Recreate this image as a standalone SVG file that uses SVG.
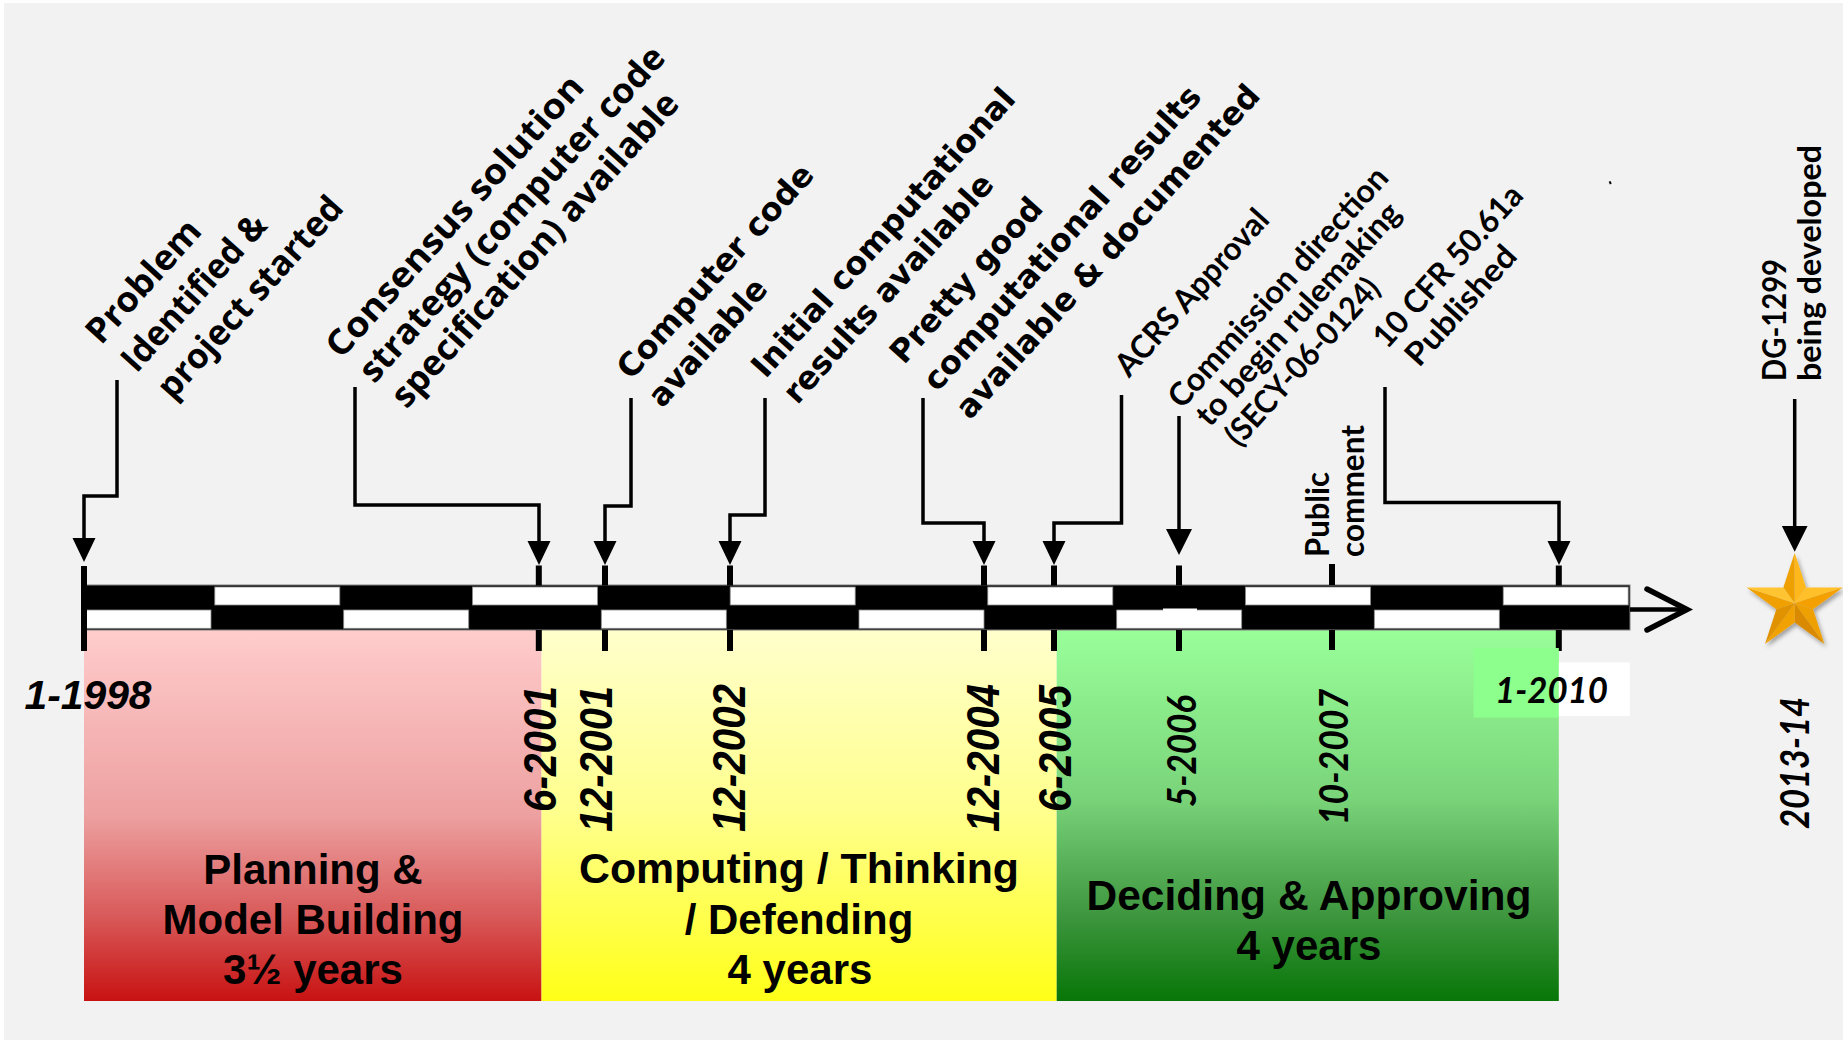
<svg xmlns="http://www.w3.org/2000/svg" width="1843" height="1040" viewBox="0 0 1843 1040">
  <defs>
    <style>
      .conn { fill: none; stroke: #000; stroke-width: 3.5; }
      .tick { fill: #000; }
      .seg-w { fill: #fff; stroke: #8a8a8a; stroke-width: 0.8; }
      .fa { font-family: "Open Sans", "DejaVu Sans", sans-serif; font-weight: 700; font-size: 35px; fill: #000; }
      .fb { font-family: "DejaVu Sans", sans-serif; font-weight: 700; font-size: 32px; fill: #000; }
      .fc { font-family: Lato, "Open Sans", sans-serif; font-weight: 700; font-size: 32px; fill: #000; }
      .dt { font-family: "Liberation Sans", Arial, sans-serif; font-weight: 700; font-style: italic; fill: #000; }
      .dc { font-family: Lato, "Open Sans", sans-serif; font-weight: 700; font-style: italic; fill: #000; }
      .ph { font-family: "Liberation Sans", Arial, sans-serif; font-weight: 700; font-size: 42px; text-anchor: middle; fill: #000; }
    </style>
    <marker id="arrow" markerUnits="userSpaceOnUse" markerWidth="26" markerHeight="26" refX="12" refY="11.5" orient="auto">
      <path d="M0,0 L24,11.5 L0,23 Z" fill="#000"/>
    </marker>
    <marker id="arrow-lg" markerUnits="userSpaceOnUse" markerWidth="28" markerHeight="28" refX="13" refY="13" orient="auto">
      <path d="M0,0 L26,13 L0,26 Z" fill="#000"/>
    </marker>
    <linearGradient id="g-red" x1="0" y1="0" x2="0" y2="1">
      <stop offset="0" stop-color="#ffcccc"/>
      <stop offset="0.5" stop-color="#eda0a0"/>
      <stop offset="0.77" stop-color="#d95a5a"/>
      <stop offset="1" stop-color="#c81212"/>
    </linearGradient>
    <linearGradient id="g-yellow" x1="0" y1="0" x2="0" y2="1">
      <stop offset="0" stop-color="#ffffcc"/>
      <stop offset="0.5" stop-color="#ffff8c"/>
      <stop offset="1" stop-color="#ffff18"/>
    </linearGradient>
    <linearGradient id="g-green" x1="0" y1="0" x2="0" y2="1">
      <stop offset="0" stop-color="#99ff99"/>
      <stop offset="0.45" stop-color="#7ad47a"/>
      <stop offset="0.77" stop-color="#3e963e"/>
      <stop offset="1" stop-color="#077607"/>
    </linearGradient>
    <filter id="star-shadow" x="-30%" y="-30%" width="160%" height="160%">
      <feDropShadow dx="2" dy="3" stdDeviation="2" flood-color="#000" flood-opacity="0.35"/>
    </filter>
  </defs>

  <!-- page -->
  <rect x="0" y="0" width="1843" height="1040" fill="#ffffff"/>
  <rect x="4" y="3" width="1839" height="1037" fill="#f2f2f2"/>

  <!-- phase blocks -->
  <g id="phase-planning">
    <rect x="84" y="630" width="457.5" height="371" fill="url(#g-red)"/>
    <text class="ph" x="313" y="884">Planning &amp;</text>
    <text class="ph" x="313" y="934">Model Building</text>
    <text class="ph" x="313" y="984">3½ years</text>
  </g>
  <g id="phase-computing">
    <rect x="541.5" y="630" width="515.2" height="371" fill="url(#g-yellow)"/>
    <text class="ph" x="799" y="883" textLength="440" lengthAdjust="spacingAndGlyphs">Computing / Thinking</text>
    <text class="ph" x="799" y="934">/ Defending</text>
    <text class="ph" x="800" y="984">4 years</text>
  </g>
  <g id="phase-deciding">
    <rect x="1056.7" y="630" width="502.1" height="371" fill="url(#g-green)"/>
    <text class="ph" x="1309" y="910" textLength="445" lengthAdjust="spacingAndGlyphs">Deciding &amp; Approving</text>
    <text class="ph" x="1309" y="960">4 years</text>
  </g>

  <!-- timeline bar: checkered two-row scale, one cell per year -->
  <g id="timeline">
    <rect x="84" y="585" width="1546" height="45" fill="#000" stroke="#808080" stroke-width="1"/>
    <rect class="seg-w" x="214.8" y="587" width="125" height="18"/>
    <rect class="seg-w" x="472.5" y="587" width="125" height="18"/>
    <rect class="seg-w" x="730.2" y="587" width="125" height="18"/>
    <rect class="seg-w" x="987.8" y="587" width="125" height="18"/>
    <rect class="seg-w" x="1245.5" y="587" width="125" height="18"/>
    <rect class="seg-w" x="1503.2" y="587" width="125" height="18"/>
    <rect class="seg-w" x="86" y="610" width="125" height="18.3"/>
    <rect class="seg-w" x="343.7" y="610" width="125" height="18.3"/>
    <rect class="seg-w" x="601.3" y="610" width="125" height="18.3"/>
    <rect class="seg-w" x="859" y="610" width="125" height="18.3"/>
    <rect class="seg-w" x="1116.7" y="610" width="125" height="18.3"/>
    <rect class="seg-w" x="1374.3" y="610" width="125" height="18.3"/>
    <rect x="1163" y="608.5" width="34" height="3" fill="#fff"/>
    <!-- arrow head of the time axis -->
    <line x1="1630" y1="609.5" x2="1683" y2="609.5" stroke="#000" stroke-width="4.5"/>
    <polyline points="1647,589 1687,609.5 1647,630" fill="none" stroke="#000" stroke-width="5.5" stroke-linecap="round" stroke-linejoin="miter"/>
  </g>

  <!-- date ticks (above and below the bar) -->
  <g id="ticks">
    <rect class="tick" x="81" y="566" width="6" height="85"/>
    <rect class="tick" x="535.8" y="565.5" width="6" height="20"/>
    <rect class="tick" x="535.8" y="630" width="6" height="21"/>
    <rect class="tick" x="602" y="565.5" width="6" height="20"/>
    <rect class="tick" x="602" y="630" width="6" height="21"/>
    <rect class="tick" x="727" y="565.5" width="6" height="20"/>
    <rect class="tick" x="727" y="630" width="6" height="21"/>
    <rect class="tick" x="981" y="565.5" width="6" height="20"/>
    <rect class="tick" x="981" y="630" width="6" height="21"/>
    <rect class="tick" x="1051" y="565.5" width="6" height="20"/>
    <rect class="tick" x="1051" y="630" width="6" height="21"/>
    <rect class="tick" x="1176" y="565.5" width="6" height="20"/>
    <rect class="tick" x="1176" y="630" width="6" height="21"/>
    <rect class="tick" x="1329" y="564" width="6" height="21"/>
    <rect class="tick" x="1329" y="630" width="6" height="20"/>
    <rect class="tick" x="1555.8" y="565.5" width="6" height="20"/>
    <rect class="tick" x="1555.8" y="630" width="6" height="21"/>
  </g>

  <!-- date labels -->
  <g id="dates">
    <text class="dt" x="24.5" y="709.4" font-size="40" textLength="127" lengthAdjust="spacingAndGlyphs">1-1998</text>
    <text class="dt" font-size="46" transform="translate(556,812) rotate(-90)" textLength="126" lengthAdjust="spacingAndGlyphs">6-2001</text>
    <text class="dt" font-size="46" transform="translate(611.5,832) rotate(-90)" textLength="146" lengthAdjust="spacingAndGlyphs">12-2001</text>
    <text class="dt" font-size="46" transform="translate(745,832) rotate(-90)" textLength="148" lengthAdjust="spacingAndGlyphs">12-2002</text>
    <text class="dt" font-size="46" transform="translate(998.5,832) rotate(-90)" textLength="148" lengthAdjust="spacingAndGlyphs">12-2004</text>
    <text class="dt" font-size="46" transform="translate(1071,812) rotate(-90)" textLength="127" lengthAdjust="spacingAndGlyphs">6-2005</text>
    <text class="dc" font-size="40" transform="translate(1196,807) rotate(-90)" textLength="112" lengthAdjust="spacingAndGlyphs">5-2006</text>
    <text class="dc" font-size="40" transform="translate(1347.5,825) rotate(-90)" textLength="136" lengthAdjust="spacingAndGlyphs">10-2007</text>
    <rect x="1473.5" y="648" width="85.3" height="69.6" fill="#8cff8c"/>
    <rect x="1558.8" y="662.5" width="71" height="53.5" fill="#ffffff"/>
    <text class="dc" x="1495" y="703" font-size="36" textLength="113" lengthAdjust="spacingAndGlyphs">1-2010</text>
    <text class="dc" font-size="40" transform="translate(1809,829) rotate(-90)" textLength="132" lengthAdjust="spacingAndGlyphs">2013-14</text>
  </g>

  <!-- milestone callouts -->
  <g id="connectors">
    <path class="conn" d="M117,380 V496 H84 V550" marker-end="url(#arrow)"/>
    <path class="conn" d="M355,387 V505 H539 V553" marker-end="url(#arrow)"/>
    <path class="conn" d="M631,398 V506 H605 V553" marker-end="url(#arrow)"/>
    <path class="conn" d="M765,398 V515 H730 V553" marker-end="url(#arrow)"/>
    <path class="conn" d="M923,398 V523 H984 V553" marker-end="url(#arrow)"/>
    <path class="conn" d="M1121.5,395 V523 H1054 V553" marker-end="url(#arrow)"/>
    <path class="conn" d="M1179,416 V542" marker-end="url(#arrow-lg)"/>
    <path class="conn" d="M1385,387 V502.5 H1559 V553" marker-end="url(#arrow)"/>
    <path class="conn" d="M1794.7,399 V538.7" marker-end="url(#arrow-lg)"/>
  </g>

  <g id="node-problem" transform="translate(101,346) rotate(-48)">
    <text class="fa" x="0" y="0" textLength="153" lengthAdjust="spacingAndGlyphs">Problem</text>
    <text class="fa" x="3" y="45" textLength="198" lengthAdjust="spacingAndGlyphs">Identified &amp;</text>
    <text class="fa" x="7" y="90" textLength="258" lengthAdjust="spacingAndGlyphs">project started</text>
  </g>
  <g id="node-consensus" transform="translate(341,360) rotate(-48)">
    <text class="fa" x="0" y="0" textLength="366" lengthAdjust="spacingAndGlyphs">Consensus solution</text>
    <text class="fa" x="4" y="41" textLength="438" lengthAdjust="spacingAndGlyphs">strategy (computer code</text>
    <text class="fa" x="7" y="82" textLength="410" lengthAdjust="spacingAndGlyphs">specification) available</text>
  </g>
  <g id="node-code" transform="translate(631,381) rotate(-48)">
    <text class="fb" x="0" y="0" textLength="276" lengthAdjust="spacingAndGlyphs">Computer code</text>
    <text class="fb" x="0" y="42" textLength="160" lengthAdjust="spacingAndGlyphs">available</text>
  </g>
  <g id="node-initial" transform="translate(765.5,379.5) rotate(-48)">
    <text class="fb" x="0" y="0" textLength="376" lengthAdjust="spacingAndGlyphs">Initial computational</text>
    <text class="fb" x="2" y="41" textLength="296" lengthAdjust="spacingAndGlyphs">results available</text>
  </g>
  <g id="node-pretty-good" transform="translate(904,365.5) rotate(-48)">
    <text class="fb" x="0" y="0" textLength="210" lengthAdjust="spacingAndGlyphs">Pretty good</text>
    <text class="fb" x="2" y="43" textLength="397" lengthAdjust="spacingAndGlyphs">computational results</text>
    <text class="fb" x="3" y="86" textLength="436" lengthAdjust="spacingAndGlyphs">available &amp; documented</text>
  </g>
  <g id="node-acrs" transform="translate(1129,378.5) rotate(-48)">
    <text class="fc" x="0" y="0" textLength="212" lengthAdjust="spacingAndGlyphs">ACRS Approval</text>
  </g>
  <g id="node-commission" transform="translate(1182,410) rotate(-48)">
    <text class="fc" x="0" y="0" textLength="311" lengthAdjust="spacingAndGlyphs">Commission direction</text>
    <text class="fc" x="5" y="33" textLength="288" lengthAdjust="spacingAndGlyphs">to begin rulemaking</text>
    <text class="fc" x="10" y="68" textLength="213" lengthAdjust="spacingAndGlyphs">(SECY-06-0124)</text>
  </g>
  <g id="node-public-comment" transform="translate(1329,557) rotate(-90)">
    <text class="fc" x="0" y="0" textLength="85" lengthAdjust="spacingAndGlyphs">Public</text>
    <text class="fc" x="0" y="35" textLength="132" lengthAdjust="spacingAndGlyphs">comment</text>
  </g>
  <g id="node-cfr" transform="translate(1387,350) rotate(-48)">
    <text class="fc" x="0" y="0" textLength="206" lengthAdjust="spacingAndGlyphs">10 CFR 50.61a</text>
    <text class="fc" x="8" y="36" textLength="149" lengthAdjust="spacingAndGlyphs">Published</text>
  </g>
  <g id="node-dg1299" transform="translate(1786,381) rotate(-90)">
    <text class="fc" x="0" y="0" textLength="122" lengthAdjust="spacingAndGlyphs">DG-1299</text>
    <text class="fc" x="0" y="34.5" textLength="236" lengthAdjust="spacingAndGlyphs">being developed</text>
  </g>

  <!-- future milestone star -->
  <g id="node-star" filter="url(#star-shadow)">
    <polygon points="1794.7,603.2 1794.7,552.7 1783.36,587.59" fill="#eda000"/>
    <polygon points="1794.7,603.2 1794.7,552.7 1806.04,587.59" fill="#ffb81e"/>
    <polygon points="1794.7,603.2 1806.04,587.59 1842.73,587.6" fill="#ffc02c"/>
    <polygon points="1794.7,603.2 1842.73,587.6 1813.06,609.16" fill="#f3a000"/>
    <polygon points="1794.7,603.2 1813.06,609.16 1824.38,644.05" fill="#eea000"/>
    <polygon points="1794.7,603.2 1824.38,644.05 1794.7,622.5" fill="#d98a00"/>
    <polygon points="1794.7,603.2 1794.7,622.5 1765.02,644.05" fill="#f2a200"/>
    <polygon points="1794.7,603.2 1765.02,644.05 1776.34,609.16" fill="#e09200"/>
    <polygon points="1794.7,603.2 1776.34,609.16 1746.67,587.6" fill="#f0a000"/>
    <polygon points="1794.7,603.2 1746.67,587.6 1783.36,587.59" fill="#ffc430"/>
  </g>

  <!-- stray mark -->
  <path d="M1609.6,181.4 L1610.8,184" stroke="#000" stroke-width="2"/>
</svg>
